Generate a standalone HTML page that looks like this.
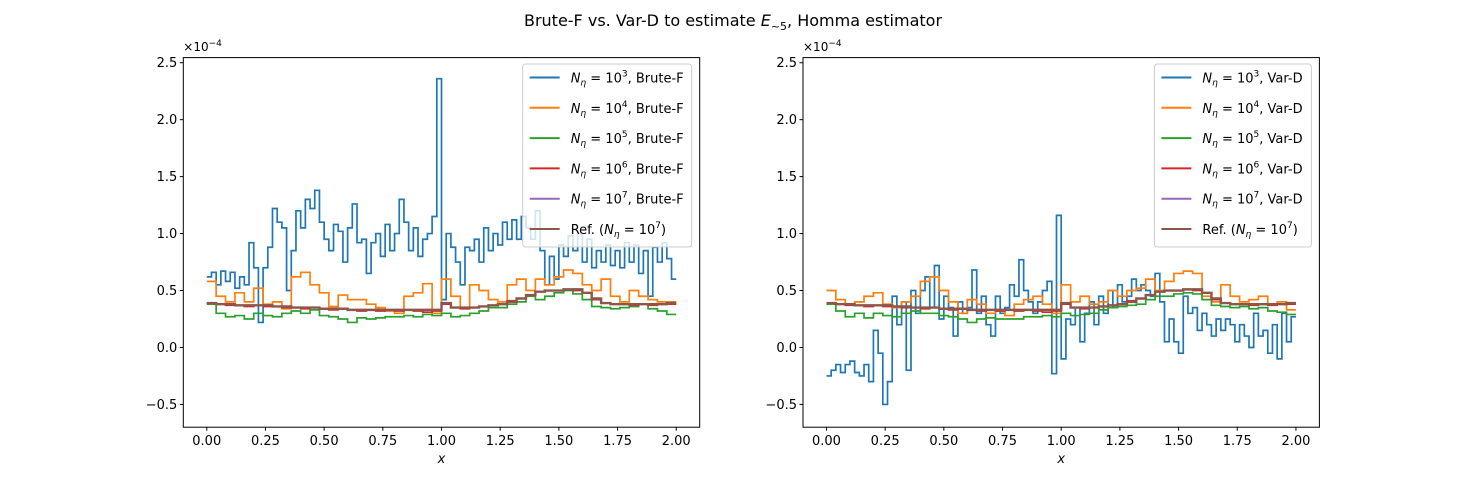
<!DOCTYPE html>
<html><head><meta charset="utf-8"><style>
body{margin:0;background:#fff}
svg{display:block;font-family:"DejaVu Sans","Liberation Sans",sans-serif}
</style></head><body>
<svg id="fig" width="1466" height="480" viewBox="0 0 1466 480">
<rect width="1466" height="480" fill="#fff"/>
<text x="733" y="26" text-anchor="middle" font-size="16">Brute-F vs. Var-D to estimate <tspan font-style="italic">E</tspan><tspan font-size="11" dy="4">~5</tspan><tspan dy="-4">, Homma estimator</tspan></text>
<g id="ax1"></g>
<g id="ax2"></g>
</svg>
<script>
const blueL=[.62,.66,.55,.67,.58,.66,.52,.62,.55,.92,.70,.22,.70,.88,1.22,1.10,1.05,.50,.85,1.20,1.05,1.30,1.22,1.38,1.10,.95,.85,1.08,1.02,.75,1.05,1.26,.92,.95,.65,.92,1.00,.80,1.08,.85,1.00,1.30,1.10,.85,1.05,.80,.95,1.00,1.15,2.36,.42,1.00,.88,.75,.55,.88,.85,.95,.75,1.05,.85,1.00,.90,1.10,.95,1.12,.95,1.15,1.05,.95,1.20,.85,.55,.80,.60,.90,.80,.98,.85,1.00,.75,.95,.70,.85,.75,.90,.72,.85,.70,.92,.75,.90,.65,.85,.45,.88,.75,.92,.78,.60];
const orangeL=[.58,.45,.40,.48,.40,.52,.38,.40,.34,.62,.66,.55,.48,.36,.46,.42,.42,.38,.35,.32,.30,.45,.48,.56,.30,.60,.45,.35,.55,.50,.42,.40,.55,.60,.50,.60,.55,.62,.68,.65,.55,.50,.60,.45,.40,.50,.45,.42,.40,.40];
const greenL=[.38,.30,.27,.28,.25,.30,.28,.27,.30,.32,.30,.33,.28,.27,.25,.22,.26,.25,.26,.27,.27,.28,.27,.29,.28,.30,.27,.28,.30,.32,.35,.35,.38,.40,.45,.42,.45,.48,.50,.47,.42,.36,.35,.34,.35,.36,.38,.34,.32,.29];
const refV=[.39,.38,.38,.37,.37,.37,.37,.36,.36,.35,.35,.35,.34,.34,.34,.33,.33,.33,.33,.33,.33,.33,.33,.33,.33,.39,.35,.35,.35,.36,.37,.38,.40,.43,.46,.49,.50,.50,.51,.51,.48,.43,.39,.38,.38,.38,.38,.38,.38,.39];
const redL=[.39,.38,.37,.37,.36,.37,.36,.36,.35,.35,.34,.35,.34,.33,.34,.33,.32,.33,.32,.33,.32,.33,.32,.31,.32,.38,.35,.34,.35,.36,.37,.38,.41,.43,.46,.49,.50,.50,.51,.50,.48,.42,.39,.38,.38,.37,.38,.37,.38,.38];
const blueR=[-.25,-.20,-.15,-.22,-.15,-.12,-.22,-.25,-.15,-.30,.15,-.05,-.50,-.30,.45,.20,.40,-.20,.50,.30,.50,.62,.35,.72,.25,.45,.35,.10,.40,.30,.35,.68,.30,.45,.20,.10,.45,.30,.35,.55,.45,.77,.50,.40,.30,.40,.50,.58,-.23,1.16,-.10,.25,.20,.35,.05,.30,.40,.20,.45,.30,.50,.35,.55,.40,.45,.60,.50,.55,.50,.45,.65,.40,.05,.25,.05,-.05,.45,.30,.35,.15,.30,.20,.10,.25,.15,.25,.20,.05,.20,.10,.00,.30,.10,.15,-.05,.20,-.10,.30,.05,.27];
const orangeR=[.50,.42,.38,.40,.45,.48,.38,.35,.40,.45,.58,.62,.50,.40,.30,.42,.38,.30,.32,.28,.38,.42,.45,.38,.30,.55,.40,.45,.38,.40,.50,.45,.50,.52,.60,.50,.58,.65,.67,.65,.45,.40,.55,.45,.40,.42,.45,.38,.40,.33];
const greenR=[.38,.32,.27,.30,.26,.30,.28,.27,.30,.32,.30,.30,.28,.27,.25,.22,.25,.26,.25,.25,.25,.27,.27,.28,.27,.30,.28,.29,.30,.33,.35,.36,.37,.38,.42,.45,.45,.47,.48,.47,.42,.37,.36,.35,.36,.34,.35,.32,.31,.29];
const xTicks=[0,0.25,0.5,0.75,1,1.25,1.5,1.75,2];
const yTicks=[-0.5,0,0.5,1,1.5,2,2.5];
const NS='http://www.w3.org/2000/svg';
const C={blue:'#1f77b4',orange:'#ff7f0e',green:'#2ca02c',red:'#d62728',purple:'#9467bd',brown:'#8c564b'};
function mk(p,tag,at){const e=document.createElementNS(NS,tag);for(const k in at)e.setAttribute(k,at[k]);p.appendChild(e);return e;}
function panel(g,L,series,labels){
  const T=57.6,B=427.2,W=516.4;
  const sx=v=>L+(v+0.1)/2.2*W;
  const sy=v=>B-(v+0.70)/3.245*(B-T);
  const clip=mk(g,'clipPath',{id:'c'+L});mk(clip,'rect',{x:L,y:T,width:W,height:B-T});
  const lines=mk(g,'g',{'clip-path':'url(#c'+L+')'});
  series.forEach(s=>{
    const n=s.v.length,dx=2/n;let d='M'+sx(0)+','+sy(s.v[0]);
    s.v.forEach((v,i)=>{if(i>0)d+='V'+sy(v);d+='H'+sx((i+1)*dx);});
    const p=mk(lines,'path',{d:d,fill:'none',stroke:s.c,'stroke-width':s.w||1.7,'stroke-linejoin':'miter'});
    
    
  });
  mk(g,'rect',{x:L,y:T,width:W,height:B-T,fill:'none',stroke:'#000','stroke-width':1});
  xTicks.forEach(t=>{const x=sx(t);mk(g,'line',{x1:x,x2:x,y1:B,y2:B+3.5,stroke:'#000'});
    const tx=mk(g,'text',{x:x,y:B+18,'text-anchor':'middle','font-size':13});tx.textContent=t.toFixed(2);
    
    });
  yTicks.forEach(t=>{const y=sy(t);mk(g,'line',{x1:L-3.5,x2:L,y1:y,y2:y,stroke:'#000'});
    const tx=mk(g,'text',{x:L-6,y:y+4.5,'text-anchor':'end','font-size':13});tx.textContent=t<0?'\u2212'+Math.abs(t).toFixed(1):t.toFixed(1);
    
    });
  const xl=mk(g,'text',{x:L+W/2,y:B+36,'text-anchor':'middle','font-size':13,'font-style':'italic'});xl.textContent='x';
  
  
  const off=mk(g,'text',{x:L,y:51,'font-size':12});off.innerHTML='×10<tspan dy="-5" font-size="9">−4</tspan>';
  
  
  const lw=labels.w,lx=L+W-8-lw;
  const lg=mk(g,'g',{});
  
  
  mk(lg,'rect',{x:lx,y:64,width:lw,height:183,rx:3,fill:'#fff','fill-opacity':0.8,stroke:'#ccc'});
  const cols=[C.blue,C.orange,C.green,C.red,C.purple,C.brown];
  cols.forEach((c,i)=>{const y=77.5+i*30.3;
    mk(lg,'line',{x1:lx+7,x2:lx+37,y1:y,y2:y,stroke:c,'stroke-width':2});
    const t=mk(lg,'text',{x:lx+48,y:y+5,'font-size':13});
    t.innerHTML = i<5 ? '<tspan font-style="italic">N</tspan><tspan font-size="9" dy="3" font-style="italic">η</tspan><tspan dy="-3"> = 10</tspan><tspan font-size="9" dy="-6">'+(i+3)+'</tspan><tspan dy="6">, '+labels.s+'</tspan>'
      : 'Ref. (<tspan font-style="italic">N</tspan><tspan font-size="9" dy="3" font-style="italic">η</tspan><tspan dy="-3"> = 10</tspan><tspan font-size="9" dy="-6">7</tspan><tspan dy="6">)</tspan>';
    
    
  });
}
panel(document.getElementById('ax1'),183.3,[
 {v:blueL,c:C.blue,name:'series-1e3-brute'},{v:orangeL,c:C.orange,name:'series-1e4-brute'},{v:greenL,c:C.green,name:'series-1e5-brute'},
 {v:redL,c:C.red,name:'series-1e6-brute'},{v:refV,c:C.purple,name:'series-1e7-brute'},{v:refV,c:C.brown,w:2.4,name:'series-ref'}],{s:'Brute-F',w:169});
panel(document.getElementById('ax2'),803,[
 {v:blueR,c:C.blue,name:'series-1e3-vard'},{v:orangeR,c:C.orange,name:'series-1e4-vard'},{v:greenR,c:C.green,name:'series-1e5-vard'},
 {v:redL,c:C.red,name:'series-1e6-vard'},{v:refV,c:C.purple,name:'series-1e7-vard'},{v:refV,c:C.brown,w:2.4,name:'series-ref'}],{s:'Var-D',w:157});
</script>
</body></html>
